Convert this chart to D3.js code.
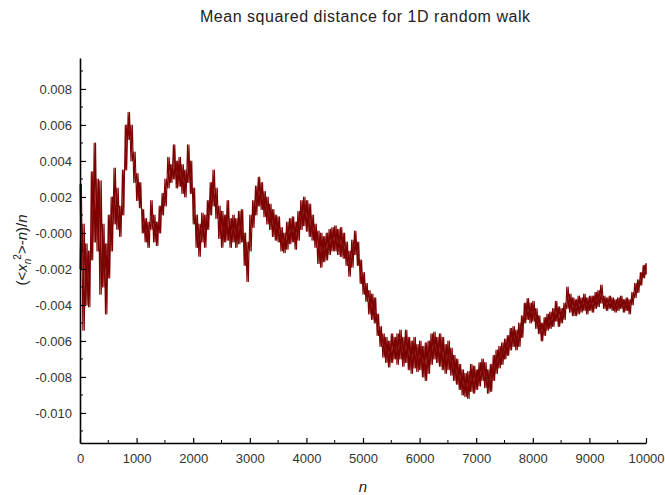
<!DOCTYPE html>
<html><head><meta charset="utf-8">
<script src="https://cdn.jsdelivr.net/npm/d3@7/dist/d3.min.js"></script>
<style>
body{margin:0;background:#fff}
svg{display:block}
text{font-family:"Liberation Sans",Arial,sans-serif}
</style>
</head><body>
<svg id="chart" width="665" height="495"></svg>
<script>
// ---- data (values in units of 1e-3) ----
const title = "Mean squared distance for 1D random walk";
const sampleN = d3.range(0, 10001, 50); // n positions at which the band was read
const bandHigh = [
 2.7,0.5,-0.6,-1.0,3.4,5.0,3.0,2.9,0.5,-0.6,
 1.0,2.0,3.6,2.5,1.5,3.5,6.0,6.7,6.0,4.5,
 3.3,2.8,1.3,0.8,0.6,1.8,1.0,0.6,1.5,2.2,
 3.0,4.2,3.8,4.9,4.0,4.2,3.8,3.5,4.9,4.0,
 2.5,1.0,0.5,1.1,1.0,1.8,2.8,3.5,2.5,1.5,
 1.2,1.0,1.8,0.8,1.0,0.8,1.2,1.3,0.0,-0.5,
 1.0,1.8,2.6,3.1,2.8,2.3,2.0,1.6,1.3,1.0,
 0.9,0.3,0.0,0.6,0.8,0.9,0.6,1.2,1.8,2.0,
 1.8,1.6,1.0,0.5,0.1,0.0,-0.2,0.0,0.2,0.3,
 0.4,0.2,0.3,0.0,-0.5,-1.0,-0.4,0.1,-0.5,-1.5,
 -2.2,-2.8,-3.2,-3.4,-3.6,-4.5,-5.2,-5.6,-5.8,-6.0,
 -5.6,-5.8,-5.6,-5.4,-5.8,-5.4,-5.8,-6.0,-5.8,-6.2,
 -6.0,-6.3,-6.1,-6.0,-5.6,-5.5,-5.8,-5.6,-5.8,-6.2,
 -6.0,-6.4,-6.8,-7.0,-7.3,-7.6,-7.8,-7.7,-7.3,-7.4,
 -7.6,-7.2,-7.0,-7.2,-7.6,-7.3,-6.8,-6.5,-6.3,-6.1,
 -5.9,-5.7,-5.3,-5.2,-5.4,-5.0,-4.6,-3.9,-3.65,-3.9,
 -3.8,-4.2,-4.6,-5.0,-4.7,-4.5,-4.4,-4.2,-3.8,-4.1,
 -4.2,-3.9,-3.0,-3.4,-3.6,-3.7,-3.5,-3.6,-3.4,-3.6,
 -3.5,-3.5,-3.3,-3.2,-2.9,-3.5,-3.6,-3.5,-3.6,-3.7,
 -3.6,-3.5,-3.7,-3.6,-3.7,-3.3,-2.8,-2.6,-2.2,-1.8,
 -1.7
];
const bandLow = [
 -2.0,-5.4,-4.0,-4.1,-1.5,-0.5,-1.0,-3.4,-3.0,-4.5,
 -2.5,-1.0,0.5,0.2,-0.2,1.0,3.5,5.2,4.0,2.8,
 1.8,1.4,0.0,-0.5,-0.8,0.2,-0.5,-0.7,0.0,1.0,
 1.5,2.5,2.8,3.0,2.5,2.6,2.2,2.0,2.8,2.2,
 0.5,-0.8,-1.3,-0.5,-0.8,0.2,1.0,1.5,0.8,-0.3,
 -0.8,-0.5,-0.4,-0.8,-0.5,-0.8,-0.6,-0.5,-1.8,-2.7,
 -1.0,0.3,1.0,1.5,1.3,0.9,0.5,0.2,-0.2,-0.4,
 -0.5,-1.0,-1.1,-0.9,-0.6,-0.5,-0.9,-0.4,0.2,0.4,
 0.1,-0.2,-0.4,-0.8,-1.7,-1.9,-1.6,-1.5,-1.2,-1.0,
 -1.0,-1.2,-1.3,-1.4,-1.8,-2.4,-1.9,-1.2,-1.8,-2.8,
 -3.4,-3.8,-4.5,-4.8,-5.0,-5.7,-6.3,-6.9,-7.2,-7.45,
 -7.2,-7.0,-7.3,-7.0,-7.4,-7.2,-7.6,-7.8,-7.5,-7.7,
 -7.6,-8.0,-8.2,-7.8,-7.3,-7.0,-7.2,-7.4,-7.6,-7.8,
 -7.6,-7.9,-8.2,-8.4,-8.7,-9.0,-9.1,-9.2,-8.8,-8.9,
 -8.7,-8.5,-8.2,-8.6,-8.9,-8.8,-8.2,-7.8,-7.5,-7.3,
 -7.0,-6.8,-6.5,-6.3,-6.5,-6.3,-5.8,-5.0,-4.8,-5.0,
 -4.9,-5.3,-5.6,-6.0,-5.7,-5.4,-5.3,-5.2,-4.9,-5.2,
 -5.0,-4.8,-4.2,-4.4,-4.6,-4.6,-4.5,-4.4,-4.3,-4.5,
 -4.3,-4.4,-4.2,-4.1,-3.9,-4.2,-4.3,-4.2,-4.3,-4.4,
 -4.3,-4.2,-4.4,-4.3,-4.5,-4.0,-3.6,-3.3,-2.9,-2.5,
 -2.3
];
const valueUnit = 1e-3;
const xTickValues = [0,1000,2000,3000,4000,5000,6000,7000,8000,9000,10000];
const xTickLabels = ["0","1000","2000","3000","4000","5000","6000","7000","8000","9000","10000"];
const xMinorTicks = [500,1500,2500,3500,4500,5500,6500,7500,8500,9500];
const yTickValues = [-0.010,-0.008,-0.006,-0.004,-0.002,0,0.002,0.004,0.006,0.008];
const yTickLabels = ["-0.010","-0.008","-0.006","-0.004","-0.002","-0.000","0.002","0.004","0.006","0.008"];
const yMinorTicks = [-0.011,-0.009,-0.007,-0.005,-0.003,-0.001,0.001,0.003,0.005,0.007,0.009];

// ---- layout ----
const svg = d3.select("#chart");
const x = d3.scaleLinear().domain([0, 10000]).range([80, 646]);
const y = d3.scaleLinear().domain([-0.01167, 0.00972]).range([443, 58]);

// series: two interleaved zig-zags spanning the upper and lower edge of the noisy band
const ptsA = [], ptsB = [];
sampleN.forEach((n, i) => {
  const n2 = Math.min(n + 25, 10000);
  ptsA.push([n, bandHigh[i] * valueUnit]);
  ptsA.push([n2, bandLow[i] * valueUnit]);
  ptsB.push([n, bandLow[i] * valueUnit]);
  ptsB.push([n2, bandHigh[i] * valueUnit]);
});
const line = d3.line().x(d => x(d[0])).y(d => y(d[1]));
[ptsA, ptsB].forEach(p => {
  svg.append("path").datum(p)
    .attr("d", line)
    .attr("fill", "none")
    .attr("stroke", "#7d0000")
    .attr("stroke-width", 1.1)
    .attr("stroke-linejoin", "round");
});

// axes
const xAxis = d3.axisBottom(x).tickValues(xTickValues)
  .tickFormat((d, i) => xTickLabels[i]).tickSizeInner(-5).tickSizeOuter(0).tickPadding(11);
const gx = svg.append("g").attr("transform", `translate(0,${y.range()[0]})`).call(xAxis);
svg.append("g").selectAll("line").data(xMinorTicks).join("line")
  .attr("x1", d => x(d)).attr("x2", d => x(d))
  .attr("y1", y.range()[0]).attr("y2", y.range()[0] - 3)
  .attr("stroke", "#000").attr("stroke-width", 1);

const yAxis = d3.axisLeft(y).tickValues(yTickValues)
  .tickFormat((d, i) => yTickLabels[i]).tickSizeInner(-6).tickSizeOuter(0).tickPadding(8);
const gy = svg.append("g").attr("transform", `translate(${x.range()[0]},0)`).call(yAxis);
svg.append("g").selectAll("line").data(yMinorTicks).join("line")
  .attr("x1", x.range()[0]).attr("x2", x.range()[0] + 3)
  .attr("y1", d => y(d)).attr("y2", d => y(d))
  .attr("stroke", "#000").attr("stroke-width", 1);

[gx, gy].forEach(g => {
  g.select(".domain").attr("stroke", "#000").attr("stroke-width", 1.6);
  g.selectAll(".tick line").attr("stroke", "#000").attr("stroke-width", 1.2);
  g.selectAll(".tick text").attr("fill", "#333").style("font-size", "13px")
   .style("font-family", '"Liberation Sans",Arial,sans-serif');
});

// title
svg.append("text").attr("x", 365).attr("y", 22).attr("text-anchor", "middle")
  .style("font-size", "16px").attr("fill", "#222")
  .attr("textLength", 330).attr("lengthAdjust", "spacing").text(title);

// x label
svg.append("text").attr("x", 363).attr("y", 492).attr("text-anchor", "middle")
  .style("font-size", "15px").style("font-style", "italic").attr("fill", "#222").text("n");

// y label
const yl = svg.append("text").attr("transform", "translate(27,250) rotate(-90)")
  .attr("text-anchor", "middle").style("font-size", "15px").attr("fill", "#222");
yl.append("tspan").text("(<");
yl.append("tspan").style("font-style", "italic").text("x");
yl.append("tspan").style("font-style", "italic").style("font-size", "10px").attr("dy", 4).text("n");
yl.append("tspan").style("font-size", "10px").attr("dy", -10).attr("dx", -1).text("2");
yl.append("tspan").attr("dy", 6).text(">-");
yl.append("tspan").style("font-style", "italic").text("n");
yl.append("tspan").text(")/");
yl.append("tspan").style("font-style", "italic").text("n");
</script>
</body></html>
